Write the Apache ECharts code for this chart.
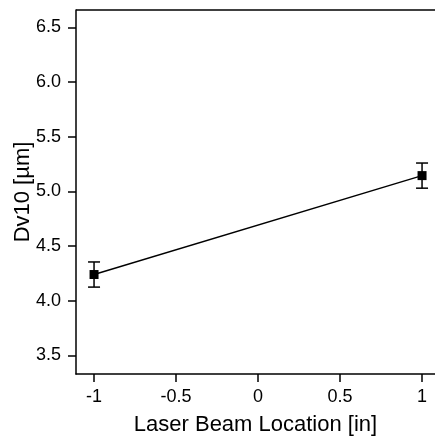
<!DOCTYPE html>
<html><head><meta charset="utf-8">
<script src="https://cdn.jsdelivr.net/npm/echarts@6/dist/echarts.min.js"></script>
<style>html,body{margin:0;padding:0;background:#fff}#c{width:435px;height:439px}</style>
</head><body><div id="c"></div>
<script>
var xValues = [-1, 1];
var yValues = [4.24, 5.145];
var yErrors = [0.115, 0.115];
var xTicks = [-1, -0.5, 0, 0.5, 1];
var yTicks = [3.5, 4.0, 4.5, 5.0, 5.5, 6.0, 6.5];

var lineData = xValues.map(function(x, i){ return [x, yValues[i]]; });
var errData = xValues.map(function(x, i){ return [x, yValues[i] - yErrors[i], yValues[i] + yErrors[i]]; });
var font = 'Arial';

var chart = echarts.init(document.getElementById('c'));
chart.setOption({
  animation: false,
  grid: {left: 76, top: 10, right: 0, bottom: 65, show: false, containLabel: false, outerBoundsMode: 'none'},
  xAxis: {
    type: 'value', min: -1.11, max: 1.079,
    axisLine: {show: true, onZero: false, lineStyle: {color: '#000', width: 1.5}},
    axisTick: {show: true, inside: false, length: 8, lineStyle: {color: '#000', width: 1.5}, customValues: xTicks},
    axisLabel: {color: '#000', fontSize: 18, fontFamily: font, margin: 14, customValues: xTicks,
      formatter: function(v){ return String(v); }},
    splitLine: {show: false},
    name: 'Laser Beam Location [in]', nameLocation: 'middle', nameGap: 40,
    nameTextStyle: {color: '#000', fontSize: 22, fontFamily: font}
  },
  yAxis: {
    type: 'value', min: 3.33, max: 6.66,
    axisLine: {show: true, onZero: false, lineStyle: {color: '#000', width: 1.5}},
    axisTick: {show: true, inside: false, length: 8, lineStyle: {color: '#000', width: 1.5}, customValues: yTicks},
    axisLabel: {color: '#000', fontSize: 18, fontFamily: font, margin: 15, customValues: yTicks,
      formatter: function(v){ return v.toFixed(1); }},
    splitLine: {show: false},
    name: 'Dv10 [µm]', nameLocation: 'middle', nameGap: 42, nameRotate: 90, nameMoveOverlap: false,
    nameTextStyle: {color: '#000', fontSize: 22, fontFamily: font}
  },
  series: [
    {
      type: 'line', data: lineData, symbol: 'rect', symbolSize: 9,
      lineStyle: {color: '#000', width: 1.5}, itemStyle: {color: '#000'}, z: 3
    },
    {
      type: 'custom', data: errData, z: 2,
      renderItem: function(params, api){
        var x = api.value(0);
        var lo = api.coord([x, api.value(1)]);
        var hi = api.coord([x, api.value(2)]);
        var hw = 6;
        var st = {stroke: '#000', lineWidth: 1.5};
        return {type: 'group', children: [
          {type: 'line', shape: {x1: lo[0], y1: lo[1], x2: hi[0], y2: hi[1]}, style: st},
          {type: 'line', shape: {x1: lo[0]-hw, y1: lo[1], x2: lo[0]+hw, y2: lo[1]}, style: st},
          {type: 'line', shape: {x1: hi[0]-hw, y1: hi[1], x2: hi[0]+hw, y2: hi[1]}, style: st}
        ]};
      }
    }
  ],
  graphic: [{
    type: 'line', z: 10,
    shape: {x1: 76, y1: 10, x2: 435, y2: 10},
    style: {stroke: '#000', lineWidth: 1.5}
  }]
});
</script></body></html>
